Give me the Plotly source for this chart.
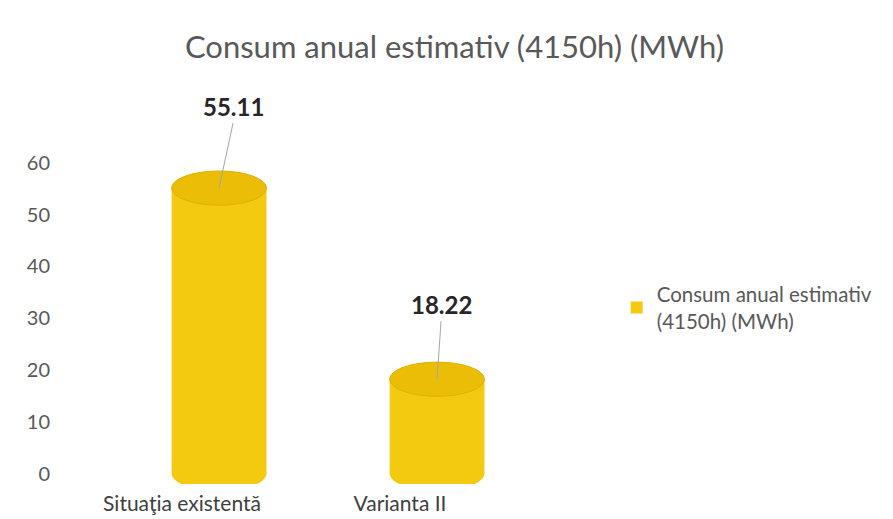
import plotly.graph_objects as go

categories = ["Situaţia existentă", "Varianta II"]
values = [55.11, 18.22]
value_labels = ["55.11", "18.22"]
series_name = "Consum anual estimativ<br>(4150h) (MWh)"
title_text = "Consum anual estimativ (4150h) (MWh)"
tick_vals = [0, 10, 20, 30, 40, 50, 60]

BODY = "#F3CA10"
TOP = "#EBBD06"
bar_w = 0.435
shift = 0.17  # perspective offset of the cylinders from the category centre
ell = 3.3     # half-height of cylinder ellipses in data units
label_offsets = [(14, -65), (4, -58)]  # pixel offsets of the value labels

fig = go.Figure()
fig.add_trace(go.Bar(
    x=list(range(len(categories))), y=values, name=series_name,
    marker=dict(color=BODY, line=dict(width=0)), width=bar_w,
    offset=shift - bar_w / 2, showlegend=True,
))

shapes = []
for i, v in enumerate(values):
    c = i + shift
    shapes.append(dict(type="circle", xref="x", yref="y",
                       x0=c - bar_w / 2, x1=c + bar_w / 2, y0=-ell, y1=ell,
                       fillcolor=BODY, line=dict(width=0), layer="below"))
    shapes.append(dict(type="circle", xref="x", yref="y",
                       x0=c - bar_w / 2, x1=c + bar_w / 2, y0=v - ell, y1=v + ell,
                       fillcolor=TOP, line=dict(color="#E0B000", width=1), layer="above"))

annotations = []
for i, (v, t) in enumerate(zip(values, value_labels)):
    ax, ay = label_offsets[i]
    annotations.append(dict(x=i + shift, y=v, xref="x", yref="y", text="<b>%s</b>" % t,
                            showarrow=True, arrowhead=0, arrowwidth=1, arrowcolor="#A6A6A6",
                            ax=ax, ay=ay, font=dict(size=24, color="#262626", family="Lato"),
                            yanchor="bottom"))

fig.update_layout(
    width=893, height=519,
    paper_bgcolor="white", plot_bgcolor="white",
    font=dict(family="Lato", color="#595959"),
    title=dict(text=title_text, x=0.5, xanchor="center", y=0.925, yanchor="middle",
               font=dict(size=31, color="#595959", family="Lato")),
    margin=dict(l=65, r=392, t=134, b=33),
    shapes=shapes, annotations=annotations,
    xaxis=dict(tickmode="array", tickvals=list(range(len(categories))), ticktext=categories,
               range=[-0.5, len(categories) - 0.5], showgrid=False, zeroline=False,
               showline=False, ticks="", tickfont=dict(size=21, color="#404040"),
               ticklabelstandoff=5),
    yaxis=dict(range=[-2, 64], tickvals=tick_vals, showgrid=False, zeroline=False,
               showline=False, ticks="", tickfont=dict(size=20, color="#595959"),
               ticklabelstandoff=22),
    legend=dict(x=1.247, y=0.515, xanchor="left", yanchor="middle",
                font=dict(size=20.5, color="#595959")),
)

fig.write_html("out.html")
